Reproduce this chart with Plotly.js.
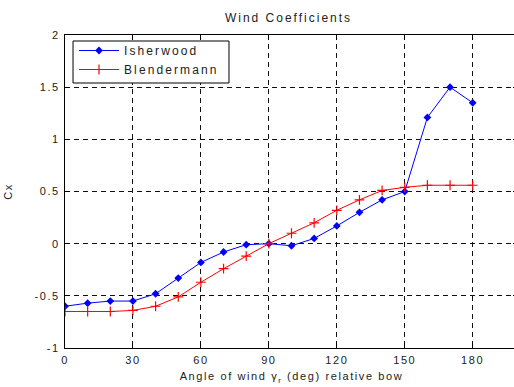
<!DOCTYPE html>
<html>
<head>
<meta charset="utf-8">
<script src="https://cdn.plot.ly/plotly-3.0.1.min.js"></script>
<style>
  html, body { margin: 0; padding: 0; overflow: hidden; background: #fff; }
  #chart { width: 518px; height: 387px; }
  text.gtitle { letter-spacing: 2px; }
  text.legendtext { letter-spacing: 2.1px; }
  text.xtitle { letter-spacing: 1.6px; }
  text.ytitle { letter-spacing: 1.5px; }
  .xtick text, .ytick text { letter-spacing: 1.6px; }
</style>
</head>
<body>
<div id="chart"></div>
<script>
const angles = [0, 10, 20, 30, 40, 50, 60, 70, 80, 90, 100, 110, 120, 130, 140, 150, 160, 170, 180];
const isherwood = [-0.60, -0.57, -0.55, -0.55, -0.48, -0.33, -0.18, -0.08, -0.01, 0.00, -0.02, 0.05, 0.17, 0.30, 0.42, 0.50, 1.21, 1.50, 1.35];
const blendermann = [-0.65, -0.65, -0.65, -0.64, -0.60, -0.51, -0.37, -0.24, -0.12, 0.00, 0.10, 0.20, 0.32, 0.42, 0.51, 0.54, 0.56, 0.56, 0.56];
const xTicks = [0, 30, 60, 90, 120, 150, 180];
const yTicks = [-1, -0.5, 0, 0.5, 1, 1.5, 2];
const yTickText = ['-1', '-0.5', '0', '0.5', '1', '1.5', '2'];

const fontFam = 'Liberation Sans, Arial, sans-serif';
const traces = [
  {
    x: angles, y: isherwood, name: 'Isherwood', type: 'scatter', mode: 'lines+markers',
    line: {color: '#0000ff', width: 1},
    marker: {symbol: 'diamond', size: 6, color: '#0000ff'}
  },
  {
    x: angles, y: blendermann, name: 'Blendermann', type: 'scatter', mode: 'lines+markers',
    line: {color: '#ff0000', width: 1},
    marker: {symbol: 'cross-thin-open', size: 7, color: '#ff0000', line: {color: '#ff0000', width: 1.2}}
  }
];

const axisCommon = {
  showline: true, linecolor: '#000', linewidth: 1, mirror: 'ticks',
  ticks: 'inside', ticklen: 5, tickcolor: '#000', tickwidth: 1,
  showgrid: true, gridcolor: '#111', gridwidth: 1, griddash: '5px,4px',
  zeroline: false,
  tickfont: {family: fontFam, size: 11, color: '#222'}
};

const layout = {
  width: 518, height: 387,
  margin: {l: 65, r: 0, t: 35, b: 39},
  paper_bgcolor: '#fff', plot_bgcolor: '#fff',
  font: {family: fontFam, size: 11, color: '#222'},
  title: {
    text: 'Wind Coefficients', x: 0.4934, xref: 'paper', xanchor: 'center',
    y: 1 - 18 / 387, yref: 'container', yanchor: 'middle',
    font: {family: fontFam, size: 12, color: '#222'}
  },
  xaxis: Object.assign({}, axisCommon, {
    range: [0, 200], tickvals: xTicks, ticktext: xTicks.map(String),
    ticklabelstandoff: 2,
    title: {text: 'Angle of wind γ<sub>r</sub> (deg) relative bow', standoff: 7,
            font: {family: fontFam, size: 11, color: '#222'}}
  }),
  yaxis: Object.assign({}, axisCommon, {
    range: [-1, 2], tickvals: yTicks, ticktext: yTickText,
    ticklabelstandoff: 2,
    title: {text: 'Cx', standoff: 19, font: {family: fontFam, size: 11, color: '#222'}}
  }),
  shapes: [{
    type: 'rect', xref: 'paper', yref: 'paper', layer: 'above',
    x0: 0.0177, x1: 0.362, y0: 0.8466, y1: 0.9808,
    fillcolor: '#fff', line: {color: '#000', width: 1}
  }],
  showlegend: true,
  legend: {
    x: 0.0199, y: 0.9968, xanchor: 'left', yanchor: 'top',
    bgcolor: 'rgba(0,0,0,0)', borderwidth: 0,
    font: {family: fontFam, size: 12, color: '#222'},
    itemwidth: 40,
    tracegroupgap: 0
  }
};

Plotly.newPlot('chart', traces, layout, {displayModeBar: false, staticPlot: true});
</script>
</body>
</html>
